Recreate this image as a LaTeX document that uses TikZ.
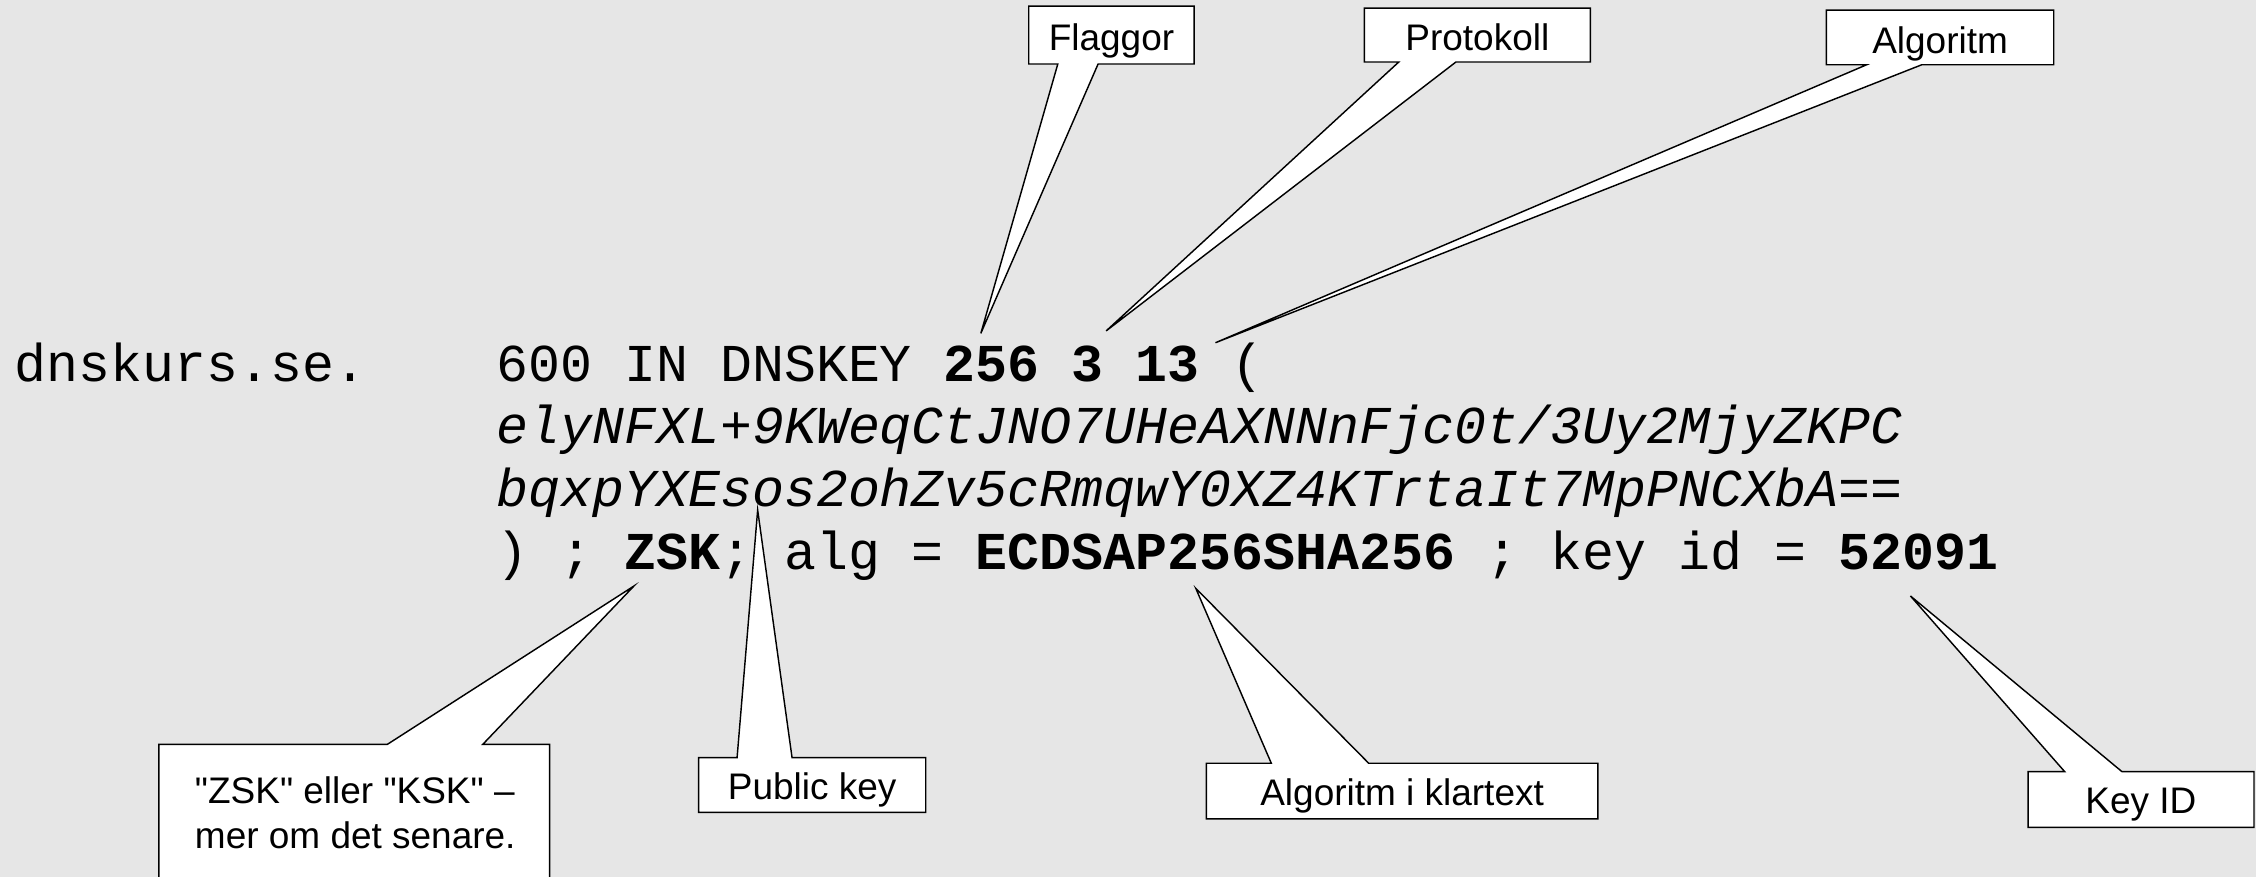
\documentclass[tikz,border=0pt]{standalone}
\usepackage{fontspec}
\setmainfont{Liberation Sans}
\setmonofont{Liberation Mono}
\definecolor{bgcol}{RGB}{230,230,230}
\tikzset{
  callout/.style={draw=black, fill=white, line width=1pt, line join=miter},
  lbl/.style={inner sep=0pt, anchor=base, font=\fontsize{25.7}{30}\selectfont},
  lblleft/.style={inner sep=0pt, anchor=base west, font=\fontsize{25.7}{30}\selectfont},
  code/.style={inner sep=0pt, anchor=base west, font=\ttfamily\fontsize{37}{44}\selectfont}
}
\begin{document}
\begin{tikzpicture}[x=1pt,y=-1pt]
\fill[bgcol] (0,0) rectangle (1568,609.5);
\useasboundingbox (0,0) rectangle (1568,609.5);
\clip (0,0) rectangle (1568,609.5);

% code lines
\node[code] (l1a) at (10,265) {dnskurs.se.};
\node[code] (l1b) at (345,265) {600 IN DNSKEY \textbf{256 3 13} (};
\node[code] (l2) at (345,308) {\itshape elyNFXL+9KWeqCtJNO7UHeAXNNnFjc0t/3Uy2MjyZKPC};
\node[code] (l3) at (345,352) {\itshape bqxpYXEsos2ohZv5cRmqwY0XZ4KTrtaIt7MpPNCXbA==};
\node[code] (l4) at (345,396) {) ; \textbf{ZSK}; alg = \textbf{ECDSAP256SHA256} ; key id = \textbf{52091}};

% tips
\coordinate (tipFlag) at (681.7,231.7);
\coordinate (tipProt) at (768.8,230);
\coordinate (tipAlg) at (844.8,238.2);
\coordinate (tipZsk) at (440.6,407.3);
\coordinate (tipPub) at (526.6,354.5);
\coordinate (tipKlar) at (831.1,408.9);
\coordinate (tipKid) at (1327.8,414.2);

% top callouts (wedge on bottom edge)
\draw[callout] (715,4.2) -- (830,4.2) -- (830,44.5) -- (763.2,44.5) -- (tipFlag) -- (735.2,44.5) -- (715,44.5) -- cycle;
\draw[callout] (948.3,5.6) -- (1105.3,5.6) -- (1105.3,43.1) -- (1011.9,43.1) -- (tipProt) -- (972.2,43.1) -- (948.3,43.1) -- cycle;
\draw[callout] (1269.4,7) -- (1427.4,7) -- (1427.4,45) -- (1335.7,45) -- (tipAlg) -- (1297.4,45) -- (1269.4,45) -- cycle;

% bottom callouts (wedge on top edge)
\draw[callout] (110.4,517.3) -- (269.3,517.3) -- (tipZsk) -- (335.6,517.3) -- (382,517.3) -- (382,620) -- (110.4,620) -- cycle;
\draw[callout] (485.6,526.6) -- (512.3,526.6) -- (tipPub) -- (550.5,526.6) -- (643.4,526.6) -- (643.4,564.6) -- (485.6,564.6) -- cycle;
\draw[callout] (838.5,530.5) -- (883.6,530.5) -- (tipKlar) -- (951.3,530.5) -- (1110.6,530.5) -- (1110.6,569.2) -- (838.5,569.2) -- cycle;
\draw[callout] (1409.6,536.3) -- (1435,536.3) -- (tipKid) -- (1474.8,536.3) -- (1566.6,536.3) -- (1566.6,575) -- (1409.6,575) -- cycle;

% labels
\node[lbl] (flag) at (772.5,35.4) {Flaggor};
\node[lbl] (prot) at (1026.8,34.8) {Protokoll};
\node[lbl] (alg) at (1348.4,37) {Algoritm};
\node[lblleft] (zskA) at (135.3,558.3) {\textquotedbl ZSK\textquotedbl{} eller \textquotedbl KSK\textquotedbl{} –};
\node[lblleft] (zskB) at (135.3,589.5) {mer om det senare.};
\node[lbl] (pub) at (564.5,555.5) {Public key};
\node[lbl] (klar) at (974.5,560) {Algoritm i klartext};
\node[lbl] (kid) at (1488,565.3) {Key ID};
\end{tikzpicture}
\end{document}
